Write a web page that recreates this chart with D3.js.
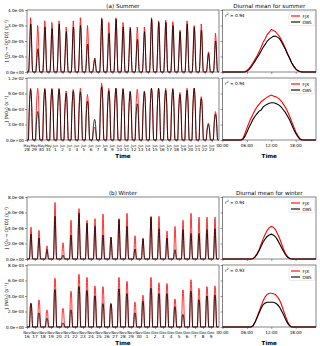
<!DOCTYPE html>
<html><head><meta charset="utf-8">
<script src="https://cdn.jsdelivr.net/npm/d3@7"></script>
<style>body{margin:0;background:#fff} text{font-family:"DejaVu Sans",sans-serif;fill:#000}</style>
</head><body><svg id="c" width="320" height="346"></svg>
<script>
// ---------------- DATA ----------------
const summerDays = ["May 28","May 29","May 30","May 31","Jun 1","Jun 2","Jun 3","Jun 4","Jun 5","Jun 6","Jun 7","Jun 8","Jun 9","Jun 10","Jun 11","Jun 12","Jun 13","Jun 14","Jun 15","Jun 16","Jun 17","Jun 18","Jun 19","Jun 20","Jun 21","Jun 22","Jun 23"];
const winterDays = ["Nov 16","Nov 17","Nov 18","Nov 19","Nov 20","Nov 21","Nov 22","Nov 23","Nov 24","Nov 25","Nov 26","Nov 27","Nov 28","Nov 29","Nov 30","Dec 1","Dec 2","Dec 3","Dec 4","Dec 5","Dec 6","Dec 7","Dec 8","Dec 9"];

// daily peak values
const sumO1D_FJX = [3.5,3.0,3.3,3.2,3.3,2.9,3.3,3.5,3.0,0.8,3.5,3.2,3.5,3.2,2.9,2.9,2.9,3.5,3.3,3.35,3.25,2.7,3.3,3.0,3.1,1.3,2.5]; // x1e-5
const sumO1D_OBS = [3.1,1.5,2.9,2.8,3.1,2.6,2.9,3.0,1.8,0.9,3.4,2.5,3.4,2.9,2.8,2.1,2.6,3.4,3.2,3.2,3.0,2.6,3.1,2.9,2.7,1.2,2.0];
const sumNO2_FJX = [10.0,10.0,10.0,10.0,10.0,9.5,9.8,10.0,8.8,2.5,11.0,10.0,10.0,10.0,9.5,9.8,9.5,10.0,10.0,10.0,10.0,9.2,10.0,10.0,8.4,3.3,5.5]; // x1e-3
const sumNO2_OBS = [9.8,5.5,9.8,9.8,9.8,9.0,9.5,9.3,7.5,4.0,10.3,9.5,10.0,9.8,9.3,7.0,9.3,10.0,10.0,9.6,9.8,8.8,9.6,10.0,8.0,3.0,5.0];
const winO1D_FJX = [4.1,3.7,1.7,7.3,2.1,5.0,6.5,5.0,5.2,5.8,2.8,5.2,5.9,3.0,2.7,5.5,5.5,3.6,4.2,5.0,5.9,5.4,5.4,5.4]; // x1e-6
const winO1D_OBS = [3.2,2.7,1.2,5.5,0.5,3.1,5.9,4.6,4.2,3.1,2.8,5.1,4.2,1.3,2.6,5.4,3.9,2.7,1.2,3.8,3.3,3.3,3.8,3.9];
const winNO2_FJX = [3.1,3.5,2.2,6.3,2.4,4.6,6.8,6.4,5.3,5.2,3.0,6.4,5.9,3.2,4.1,6.4,5.7,5.6,3.6,4.8,6.1,5.0,5.2,5.3]; // x1e-3
const winNO2_OBS = [3.0,1.8,1.1,4.8,0.5,2.2,5.2,4.7,4.0,3.0,3.0,4.9,4.3,1.8,3.3,5.0,4.3,4.3,2.6,1.6,4.6,3.5,4.0,4.1];

// diurnal means (hour of day)
const sumHours = [0,4.5,5,5.5,6,6.5,7,7.5,8,8.5,9,9.5,10,10.5,11,11.5,12,12.5,13,13.5,14,14.5,15,15.5,16,16.5,17,17.5,18,18.5,19,19.5,20,23];
const sumO1D_FJXd = [0,0,0,0.02,0.1,0.22,0.4,0.6,0.82,1.05,1.3,1.6,1.92,2.15,2.42,2.55,2.75,2.68,2.62,2.45,2.3,2.05,1.8,1.5,1.2,0.9,0.6,0.38,0.2,0.09,0.03,0.01,0,0]; // x1e-5
const sumO1D_OBSd = [0,0,0,0,0.05,0.15,0.3,0.5,0.7,0.92,1.12,1.35,1.6,1.78,2.0,2.12,2.22,2.3,2.32,2.25,2.15,1.95,1.7,1.45,1.15,0.88,0.6,0.38,0.2,0.09,0.03,0.01,0,0];
const sumNO2_FJXd = [0,0,0.3,1.2,2.3,3.3,4.2,5.0,5.8,6.4,6.9,7.4,7.7,8.0,8.3,8.5,8.7,8.5,8.4,8.2,7.9,7.5,6.9,6.3,5.5,4.6,3.6,2.6,1.6,0.9,0.3,0.05,0,0]; // x1e-3
const sumNO2_OBSd = [0,0,0.1,0.7,1.5,2.4,3.2,4.0,4.6,5.1,5.6,5.8,6.4,6.7,6.9,7.1,7.2,7.2,7.1,6.9,6.7,6.3,5.8,5.3,4.6,3.9,3.0,2.1,1.3,0.7,0.2,0.03,0,0];
const winHours = [0,7,7.5,8,8.5,9,9.5,10,10.5,11,11.5,12,12.5,13,13.5,14,14.5,15,15.5,16,16.5,17,23];
const winO1D_FJXd = [0,0,0.05,0.3,0.7,1.2,1.9,2.6,3.2,3.7,4.05,4.2,4.1,3.8,3.3,2.7,2.0,1.3,0.7,0.3,0.08,0,0]; // x1e-6
const winO1D_OBSd = [0,0,0.04,0.25,0.6,1.1,1.65,2.2,2.6,2.9,3.1,3.2,3.1,2.9,2.5,2.0,1.5,1.0,0.55,0.25,0.06,0,0];
const winNO2_FJXd = [0,0,0.15,0.6,1.3,2.0,2.7,3.4,3.9,4.2,4.35,4.35,4.3,4.2,3.9,3.5,2.9,2.1,1.4,0.7,0.2,0,0]; // x1e-3
const winNO2_OBSd = [0,0,0.15,0.6,1.2,1.8,2.4,2.9,3.1,3.2,3.2,3.2,3.2,3.1,2.9,2.6,2.1,1.6,1.0,0.5,0.15,0,0];

const r2 = {sumO1D:"0.94", sumNO2:"0.94", winO1D:"0.94", winNO2:"0.93"};
const hourTicks = [0,6,12,18];
const hourLabels = ["00:00","06:00","12:00","18:00"];

// ---------------- DRAW ----------------
const svg = d3.select("#c");
const RED = "#ff0000", BLK = "#000000";
const fmtE = v => { if (Math.abs(v) < 1e-15) v = 0; const [m,e] = v.toExponential(1).split("e"); return m + "e" + e[0] + e.slice(1).padStart(2,"0"); };

function frame(g, x0, x1, y0, y1) {
  g.append("rect").attr("x", x0).attr("y", y0).attr("width", x1 - x0).attr("height", y1 - y0)
    .attr("fill", "none").attr("stroke", "#333").attr("stroke-width", 0.6);
}

function leftPanel(opt) {
  const g = svg.append("g");
  const n = opt.days.length;
  const x = d3.scaleLinear().domain([0, n]).range([opt.x0, opt.x1]);
  const y = d3.scaleLinear().domain([0, opt.ymax]).range([opt.y1, opt.y0]);
  const build = (peaks, prof) => {
    const mx = d3.max(prof); const pts = [];
    peaks.forEach((p, i) => opt.hours.forEach((h, k) => pts.push([i + h / 24, p * opt.unit * prof[k] / mx])));
    return pts;
  };
  const line = d3.line().x(d => x(d[0])).y(d => y(d[1]));
  g.append("path").attr("d", line(build(opt.fjx, opt.fjxProf))).attr("fill", "none").attr("stroke", RED).attr("stroke-width", 0.8);
  g.append("path").attr("d", line(build(opt.obs, opt.obsProf))).attr("fill", "none").attr("stroke", BLK).attr("stroke-width", 0.8);
  frame(g, opt.x0, opt.x1, opt.y0, opt.y1);
  // y axis
  const ya = g.append("g").attr("transform", `translate(${opt.x0},0)`)
    .call(d3.axisLeft(y).tickValues(opt.yticks).tickSize(2).tickPadding(1).tickFormat(fmtE));
  ya.select(".domain").remove();
  ya.selectAll("line").attr("stroke", "#333").attr("stroke-width", 0.5);
  ya.selectAll("text").attr("font-size", 4.2).attr("font-family", "DejaVu Sans");
  // x axis
  const xa = g.append("g").attr("transform", `translate(0,${opt.y1})`)
    .call(d3.axisBottom(x).tickValues(d3.range(n)).tickSize(2).tickFormat(""));
  xa.select(".domain").remove();
  xa.selectAll("line").attr("stroke", "#333").attr("stroke-width", 0.5);
  if (opt.labels) {
    opt.days.forEach((d, i) => {
      const [m, dd] = d.split(" ");
      g.append("text").attr("x", x(i)).attr("y", opt.y1 + 6.6).attr("text-anchor", "middle").attr("font-size", opt.lfs).text(m);
      g.append("text").attr("x", x(i)).attr("y", opt.y1 + 11.4).attr("text-anchor", "middle").attr("font-size", 4.2).text(dd);
    });
    g.append("text").attr("x", (opt.x0 + opt.x1) / 2).attr("y", opt.y1 + 17.5).attr("text-anchor", "middle")
      .attr("font-size", 5.6).attr("font-weight", "bold").text("Time");
  }
  // y label
  g.append("text").attr("transform", `translate(7.5,${(opt.y0 + opt.y1) / 2}) rotate(-90)`).attr("text-anchor", "middle")
    .attr("font-size", 4.5).text(opt.ylabel);
}

function rightPanel(opt) {
  const g = svg.append("g");
  const x = d3.scaleLinear().domain([0, 23]).range([opt.x0, opt.x1]);
  const y = d3.scaleLinear().domain([0, opt.ymax]).range([opt.y1, opt.y0]);
  const line = d3.line().x((d, i) => x(opt.hours[i])).y(d => y(d * opt.unit));
  g.append("path").attr("d", line(opt.fjx)).attr("fill", "none").attr("stroke", RED).attr("stroke-width", 1.1);
  g.append("path").attr("d", line(opt.obs)).attr("fill", "none").attr("stroke", BLK).attr("stroke-width", 1.1);
  frame(g, opt.x0, opt.x1, opt.y0, opt.y1);
  const ya = g.append("g").attr("transform", `translate(${opt.x0},0)`)
    .call(d3.axisLeft(y).tickValues(opt.yticks).tickSize(2).tickFormat(""));
  ya.select(".domain").remove();
  ya.selectAll("line").attr("stroke", "#333").attr("stroke-width", 0.5);
  const xa = g.append("g").attr("transform", `translate(0,${opt.y1})`)
    .call(d3.axisBottom(x).tickValues(hourTicks).tickSize(2).tickFormat(""));
  xa.select(".domain").remove();
  xa.selectAll("line").attr("stroke", "#333").attr("stroke-width", 0.5);
  if (opt.labels) {
    hourTicks.forEach((h, i) => g.append("text").attr("x", x(h)).attr("y", opt.y1 + 6.6).attr("text-anchor", "middle")
      .attr("font-size", 4.2).text(hourLabels[i]));
    g.append("text").attr("x", (opt.x0 + opt.x1) / 2).attr("y", opt.y1 + 17.5).attr("text-anchor", "middle")
      .attr("font-size", 5.6).attr("font-weight", "bold").text("Time");
  }
  // r2
  const t = g.append("text").attr("x", opt.x0 + 2.5).attr("y", opt.y0 + 6.5).attr("font-size", 4.3);
  t.append("tspan").text("r");
  t.append("tspan").attr("dy", -1.6).attr("font-size", 3).text("2");
  t.append("tspan").attr("dy", 1.6).text(" = " + opt.r2);
  // legend
  const lx = opt.x1 - 27, ly = opt.y0 + 2;
  g.append("rect").attr("x", lx).attr("y", ly).attr("width", 25.5).attr("height", 13.5).attr("rx", 1)
    .attr("fill", "#fff").attr("fill-opacity", 0.8).attr("stroke", "#ccc").attr("stroke-width", 0.4);
  [["FJX", RED], ["OBS", BLK]].forEach(([n, c], i) => {
    const yy = ly + 4 + i * 6;
    g.append("line").attr("x1", lx + 2).attr("x2", lx + 11).attr("y1", yy).attr("y2", yy).attr("stroke", c).attr("stroke-width", 1.1);
    g.append("text").attr("x", lx + 13.5).attr("y", yy + 1.5).attr("font-size", 4.3).text(n);
  });
}

const LX0 = 27, LX1 = 219, RX0 = 222.5, RX1 = 316;
const ylabO1D = "J (O\u2083 \u2192 O(\u00b9D)) (s\u207b\u00b9)";
const ylabNO2 = "J (NO\u2082) (s\u207b\u00b9)";

// Summer
const sP = [{y0: 10, y1: 72, fjx: sumO1D_FJX, obs: sumO1D_OBS, fd: sumO1D_FJXd, od: sumO1D_OBSd, unit: 1e-5, ymax: 4e-5,
             yticks: [0,1,2,3,4].map(k => k * 1e-5), yl: ylabO1D, r2: r2.sumO1D, labels: false},
            {y0: 78, y1: 140, fjx: sumNO2_FJX, obs: sumNO2_OBS, fd: sumNO2_FJXd, od: sumNO2_OBSd, unit: 1e-3, ymax: 1.2e-2,
             yticks: [0,3,6,9,12].map(k => k * 1e-3), yl: ylabNO2, r2: r2.sumNO2, labels: true}];
const wP = [{y0: 197, y1: 259, fjx: winO1D_FJX, obs: winO1D_OBS, fd: winO1D_FJXd, od: winO1D_OBSd, unit: 1e-6, ymax: 8e-6,
             yticks: [0,2,4,6,8].map(k => k * 1e-6), yl: ylabO1D, r2: r2.winO1D, labels: false},
            {y0: 265, y1: 327, fjx: winNO2_FJX, obs: winNO2_OBS, fd: winNO2_FJXd, od: winNO2_OBSd, unit: 1e-3, ymax: 8e-3,
             yticks: [0,2,4,6,8].map(k => k * 1e-3), yl: ylabNO2, r2: r2.winNO2, labels: true}];

[[sP, summerDays, sumHours, 3.3], [wP, winterDays, winHours, 3.8]].forEach(([panels, days, hours, lfs]) => {
  panels.forEach(p => {
    leftPanel({x0: LX0, x1: LX1, y0: p.y0, y1: p.y1, days, fjx: p.fjx, obs: p.obs, hours, fjxProf: p.fd, obsProf: p.od,
               unit: p.unit, ymax: p.ymax, yticks: p.yticks, labels: p.labels, ylabel: p.yl, lfs});
    rightPanel({x0: RX0, x1: RX1, y0: p.y0, y1: p.y1, hours, fjx: p.fd, obs: p.od, unit: p.unit, ymax: p.ymax,
                yticks: p.yticks, labels: p.labels, r2: p.r2});
  });
});

// titles
svg.append("text").attr("x", (LX0 + LX1) / 2).attr("y", 8).attr("text-anchor", "middle").attr("font-size", 5.6).text("(a) Summer");
svg.append("text").attr("x", (RX0 + RX1) / 2).attr("y", 8).attr("text-anchor", "middle").attr("font-size", 5.6).text("Diurnal mean for summer");
svg.append("text").attr("x", (LX0 + LX1) / 2).attr("y", 195).attr("text-anchor", "middle").attr("font-size", 5.6).text("(b) Winter");
svg.append("text").attr("x", (RX0 + RX1) / 2).attr("y", 195).attr("text-anchor", "middle").attr("font-size", 5.6).text("Diurnal mean for winter");
</script></body></html>
